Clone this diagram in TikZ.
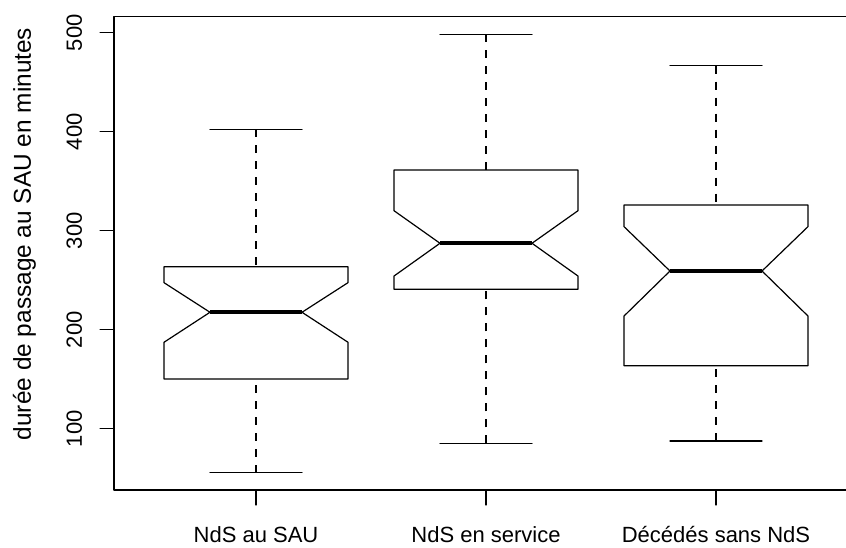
\documentclass[tikz,border=0pt]{standalone}
\usepackage{fontspec}
\setmainfont{Liberation Sans}
\usetikzlibrary{positioning}

\begin{document}
\begin{tikzpicture}[x=230pt,y=0.99pt,line width=1.2pt,line cap=round,line join=round,
	every node/.style={font=\fontsize{22}{26}\selectfont,inner sep=0pt},
	axislab/.style={font=\fontsize{24.4}{29}\selectfont},
	whisker/.style={dash pattern=on 8pt off 8pt,line cap=butt},
	median/.style={line width=3.8pt,line cap=butt}]
	\useasboundingbox (-0.11304,-19.495) rectangle (3.56522,533.03);
	\clip (-0.11304,-19.495) rectangle (3.56522,533.03);
	\draw (0.383,38.1) rectangle (3.62,516.2);
	\foreach \v in {100,200,...,500}{
		\draw (0.383,\v) -- ++(-14pt,0);
		\node[rotate=90] (ytick\v) at (0.2096,\v) {\v};
	}
	\foreach \i/\lab in {1/NdS au SAU,2/NdS en service,3/Décédés sans NdS}{
		\draw (\i,38.1) -- ++(0,-15pt);
		\node[anchor=base] (grp\i) at (\i,-14.9) {\lab};
	}
	\node[axislab,rotate=90,anchor=base] (ylab) at (0.0217,296.7) {durée de passage au SAU en minutes};
	\foreach \c/\lo/\qa/\na/\md/\nb/\qb/\hi in {1/55.6/150.2/187.3/217.6/247.5/263.6/402.4,
		2/85.3/240.8/254.2/287.3/320.2/361.3/498.4,
		3/87.6/163.6/213.8/259.3/304.1/326/466.7}{
		\draw (\c-0.4,\qb) -- (\c-0.4,\nb) -- (\c-0.2,\md) -- (\c-0.4,\na) -- (\c-0.4,\qa)
			-- (\c+0.4,\qa) -- (\c+0.4,\na) -- (\c+0.2,\md) -- (\c+0.4,\nb) -- (\c+0.4,\qb) -- cycle;
		\draw[median] (\c-0.2,\md) -- (\c+0.2,\md);
		\draw[whisker] (\c,\hi) -- (\c,\qb);
		\draw[whisker] (\c,\lo) -- (\c,\qa);
		\draw (\c-0.2,\hi) -- (\c+0.2,\hi) (\c-0.2,\lo) -- (\c+0.2,\lo);
	}
\end{tikzpicture}
\end{document}
